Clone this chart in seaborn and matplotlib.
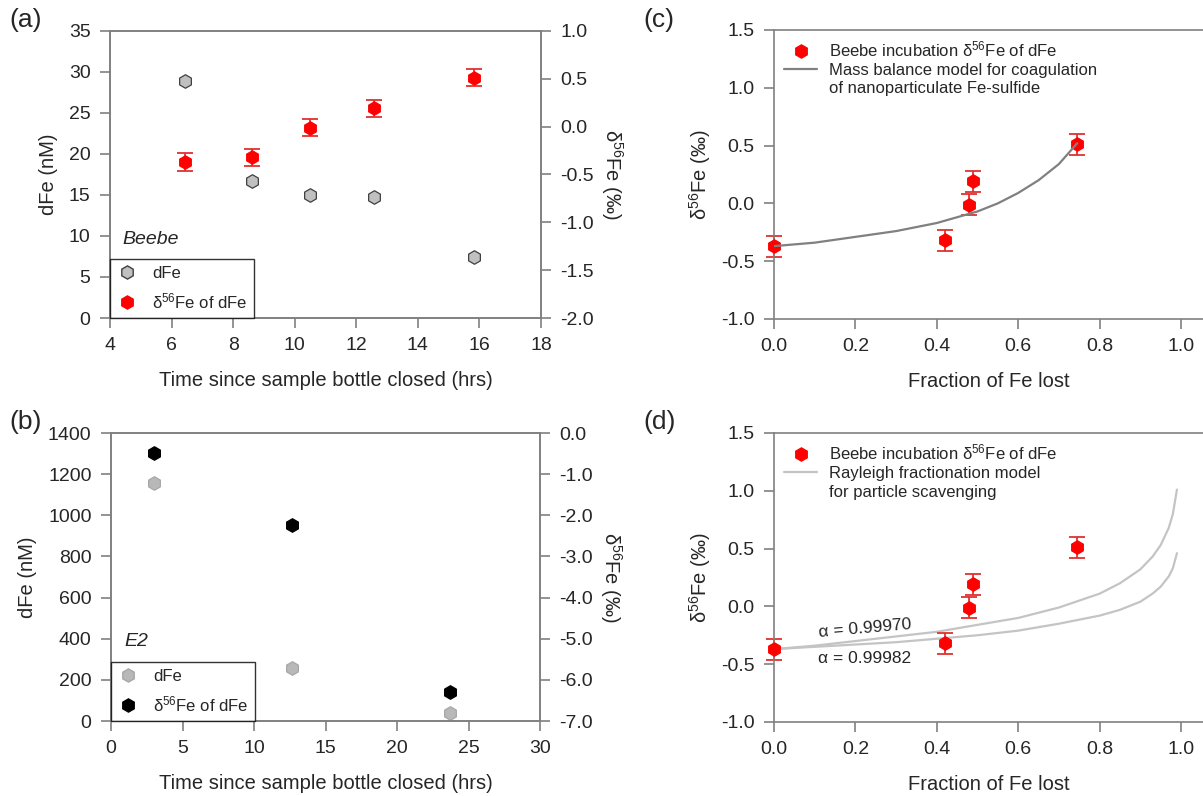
import numpy as np
import pandas as pd
import seaborn as sns
import matplotlib.pyplot as plt
from matplotlib.lines import Line2D
from matplotlib.ticker import FormatStrFormatter, MultipleLocator

sns.set_theme(style="white")
plt.rcParams['font.family'] = ['Liberation Sans', 'DejaVu Sans']
plt.rcParams['axes.unicode_minus'] = False
plt.rcParams['mathtext.fontset'] = 'custom'
plt.rcParams['mathtext.rm'] = 'Liberation Sans'
plt.rcParams['mathtext.it'] = 'Liberation Sans:italic'

# Beebe incubation (panel a)
beebe_time = [6.45, 8.6, 10.5, 12.57, 15.83]
beebe_dfe = [28.9, 16.7, 15.0, 14.8, 7.4]
beebe_d56 = [-0.37, -0.32, -0.01, 0.19, 0.51]
beebe_err = [0.09, 0.09, 0.09, 0.09, 0.09]

# E2 incubation (panel b)
e2_time = [3.0, 12.65, 23.7]
e2_dfe = [1156, 258, 39]
e2_d56 = [-0.49, -2.23, -6.30]

# fraction of Fe lost (panels c, d)
frac_lost = [0.0, 0.42, 0.48, 0.49, 0.745]

# mass balance model (panel c)
mb_frac = [0.0, 0.1, 0.2, 0.3, 0.4, 0.5, 0.55, 0.6, 0.65, 0.7, 0.745]
mb_d56 = [-0.37, -0.34, -0.29, -0.24, -0.17, -0.07, 0.0, 0.09, 0.20, 0.34, 0.52]

# Rayleigh models (panel d)
ray_frac = [0.0, 0.1, 0.2, 0.3, 0.4, 0.5, 0.6, 0.7, 0.8, 0.85, 0.9, 0.93, 0.95, 0.97, 0.98, 0.99]
ray_a70 = [-0.37, -0.34, -0.30, -0.26, -0.22, -0.16, -0.10, -0.01, 0.11, 0.20, 0.32, 0.43, 0.53, 0.68, 0.80, 1.01]
ray_a82 = [-0.37, -0.35, -0.33, -0.31, -0.28, -0.25, -0.21, -0.15, -0.08, -0.03, 0.04, 0.11, 0.17, 0.26, 0.33, 0.46]

SPINE = '#808080'
RED = '#ff0000'
ERR = '#e03030'
FS_TICK = 14
FS_LAB = 14.5
FS_LEG = 12

D56_LABEL = 'δ$^{56}$Fe (‰)'
D56_LEG = 'δ$^{56}$Fe of dFe'

fig = plt.figure(figsize=(12.03, 7.96), dpi=100)
ax_a = fig.add_axes([0.0914, 0.6005, 0.3583, 0.3606])
ax_b = fig.add_axes([0.0923, 0.0942, 0.3566, 0.3618])
ax_c = fig.add_axes([0.6434, 0.5993, 0.3566, 0.3631])
ax_d = fig.add_axes([0.6434, 0.0930, 0.3566, 0.3631])


def style(ax, right=False):
    for s in ax.spines.values():
        s.set_color(SPINE)
        s.set_linewidth(1.2)
    ax.tick_params(axis='both', which='both', direction='out', length=7,
                   width=1.2, color=SPINE, labelsize=FS_TICK, pad=7,
                   left=not right, right=right, bottom=True, top=False,
                   labelleft=not right, labelright=right)
    ax.set_facecolor('none')


def error_points(ax, x, y, err, size=95):
    ax.errorbar(x, y, yerr=err, fmt='none', ecolor=ERR, elinewidth=1.3,
                capsize=5.5, capthick=1.3, zorder=2, clip_on=False)
    sns.scatterplot(x=x, y=y, ax=ax, marker='h', s=size, color=RED,
                    edgecolor=RED, linewidth=0.8, zorder=3, legend=False,
                    clip_on=False)


def box_legend(ax, handles, labels):
    leg = ax.legend(handles, labels, loc='lower left', bbox_to_anchor=(0, 0),
                    borderaxespad=0, fancybox=False, edgecolor='black',
                    fontsize=FS_LEG, labelspacing=0.62, handletextpad=0.9,
                    borderpad=0.42, handlelength=1.2)
    leg.get_frame().set_linewidth(1.0)


# ---------------- panel (a)
ax_a2 = ax_a.twinx()
style(ax_a)
style(ax_a2, right=True)
sns.scatterplot(x=beebe_time, y=beebe_dfe, ax=ax_a, marker='h', s=95,
                color='#c0c0c0', edgecolor='#404040', linewidth=0.9, legend=False)
error_points(ax_a2, beebe_time, beebe_d56, beebe_err)
ax_a.set_xlim(4, 18)
ax_a.set_ylim(0, 35)
ax_a.xaxis.set_major_locator(MultipleLocator(2))
ax_a.yaxis.set_major_locator(MultipleLocator(5))
ax_a2.set_ylim(-2, 1)
ax_a2.yaxis.set_major_locator(MultipleLocator(0.5))
ax_a2.yaxis.set_major_formatter(FormatStrFormatter('%.1f'))
ax_a.set_xlabel('Time since sample bottle closed (hrs)', fontsize=FS_LAB, labelpad=12)
ax_a.set_ylabel('dFe (nM)', fontsize=FS_LAB, labelpad=8)
ax_a2.set_ylabel(D56_LABEL, fontsize=FS_LAB, rotation=-90, labelpad=22)
box_legend(ax_a2,
           [Line2D([], [], ls='none', marker='h', ms=9.5, mfc='#c0c0c0', mec='#404040'),
            Line2D([], [], ls='none', marker='h', ms=9.5, mfc=RED, mec=RED)],
           ['dFe', D56_LEG])
ax_a.text(0.03, 0.275, 'Beebe', transform=ax_a.transAxes, fontsize=14,
          style='italic', va='center')
fig.text(0.008, 0.975, '(a)', fontsize=19, va='center')

# ---------------- panel (b)
ax_b2 = ax_b.twinx()
style(ax_b)
style(ax_b2, right=True)
sns.scatterplot(x=e2_time, y=e2_dfe, ax=ax_b, marker='h', s=95,
                color='#b8b8b8', edgecolor='#a8a8a8', linewidth=0.9, legend=False)
sns.scatterplot(x=e2_time, y=e2_d56, ax=ax_b2, marker='h', s=95,
                color='black', edgecolor='black', linewidth=0.9, legend=False)
ax_b.set_xlim(0, 30)
ax_b.set_ylim(0, 1400)
ax_b.xaxis.set_major_locator(MultipleLocator(5))
ax_b.yaxis.set_major_locator(MultipleLocator(200))
ax_b2.set_ylim(-7, 0)
ax_b2.yaxis.set_major_locator(MultipleLocator(1))
ax_b2.yaxis.set_major_formatter(FormatStrFormatter('%.1f'))
ax_b.set_xlabel('Time since sample bottle closed (hrs)', fontsize=FS_LAB, labelpad=12)
ax_b.set_ylabel('dFe (nM)', fontsize=FS_LAB, labelpad=8)
ax_b2.set_ylabel(D56_LABEL, fontsize=FS_LAB, rotation=-90, labelpad=22)
box_legend(ax_b2,
           [Line2D([], [], ls='none', marker='h', ms=9.5, mfc='#b8b8b8', mec='#a8a8a8'),
            Line2D([], [], ls='none', marker='h', ms=9.5, mfc='black', mec='black')],
           ['dFe', D56_LEG])
ax_b.text(0.03, 0.275, 'E2', transform=ax_b.transAxes, fontsize=14,
          style='italic', va='center')
fig.text(0.008, 0.47, '(b)', fontsize=19, va='center')

# ---------------- panels (c) and (d)
for ax in (ax_c, ax_d):
    style(ax)
    ax.spines['right'].set_visible(False)
    ax.set_xlim(0, 1.054)
    ax.set_ylim(-1, 1.5)
    ax.set_xticks([0, 0.2, 0.4, 0.6, 0.8, 1.0])
    ax.yaxis.set_major_locator(MultipleLocator(0.5))
    ax.xaxis.set_major_formatter(FormatStrFormatter('%.1f'))
    ax.yaxis.set_major_formatter(FormatStrFormatter('%.1f'))
    ax.set_xlabel('Fraction of Fe lost', fontsize=FS_LAB, labelpad=12)
    ax.set_ylabel(D56_LABEL, fontsize=FS_LAB, labelpad=6)

sns.lineplot(x=mb_frac, y=mb_d56, ax=ax_c, color='#808080', lw=1.6, zorder=4)
error_points(ax_c, frac_lost, beebe_d56, beebe_err)

sns.lineplot(x=ray_frac, y=ray_a70, ax=ax_d, color='#c4c4c4', lw=1.6, zorder=1)
sns.lineplot(x=ray_frac, y=ray_a82, ax=ax_d, color='#c4c4c4', lw=1.6, zorder=1)
error_points(ax_d, frac_lost, beebe_d56, beebe_err)
ax_d.text(0.108, -0.19, 'α = 0.99970', fontsize=12.5, rotation=5, va='center')
ax_d.text(0.108, -0.45, 'α = 0.99982', fontsize=12.5, va='center')

blank = Line2D([], [], ls='none', marker='none')
pt = Line2D([], [], ls='none', marker='h', ms=9.5, mfc=RED, mec=RED)
h_c = [pt, Line2D([], [], color='#808080', lw=1.6), blank]
ax_c.legend(h_c, ['Beebe incubation ' + D56_LEG, 'Mass balance model for coagulation',
                  'of nanoparticulate Fe-sulfide'],
            loc='upper left', frameon=False, fontsize=FS_LEG, labelspacing=0.2,
            handlelength=2.0, handletextpad=0.7, borderaxespad=0.2,
            bbox_to_anchor=(0.0, 1.0))
h_d = [pt, Line2D([], [], color='#c4c4c4', lw=1.6), blank]
ax_d.legend(h_d, ['Beebe incubation ' + D56_LEG, 'Rayleigh fractionation model',
                  'for particle scavenging'],
            loc='upper left', frameon=False, fontsize=FS_LEG, labelspacing=0.2,
            handlelength=2.0, handletextpad=0.7, borderaxespad=0.2,
            bbox_to_anchor=(0.0, 1.0))
fig.text(0.535, 0.975, '(c)', fontsize=19, va='center')
fig.text(0.535, 0.47, '(d)', fontsize=19, va='center')

fig.savefig('out.png', dpi=100)
